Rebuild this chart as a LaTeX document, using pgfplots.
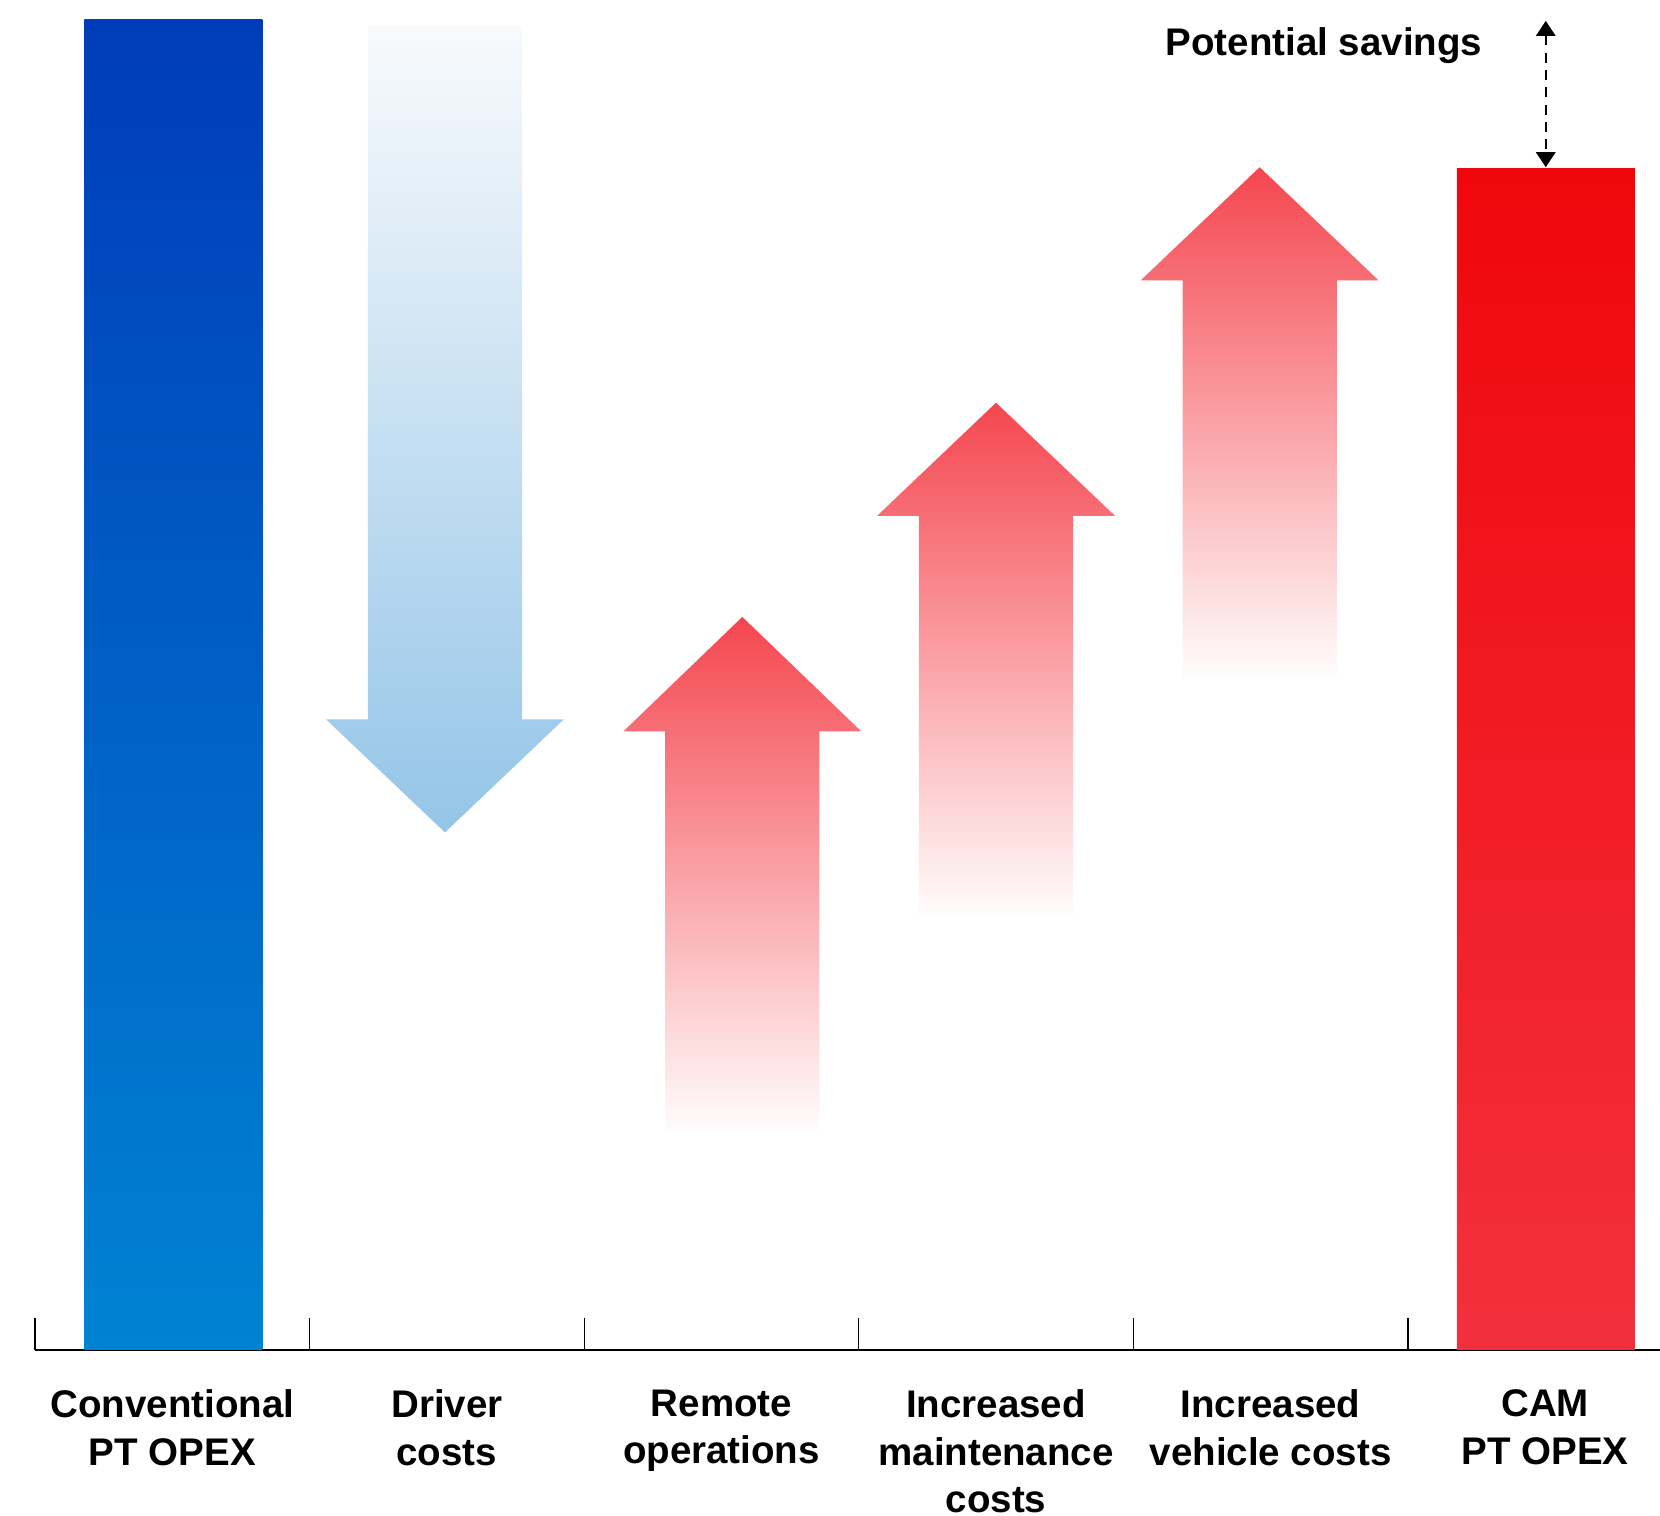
\documentclass[border=0pt]{standalone}
\usepackage{pgfplots}
\pgfplotsset{compat=1.18}
\usepackage{fontspec}
\setmainfont{Liberation Sans}
\usetikzlibrary{arrows.meta}

% bar and arrow colours
\definecolor{convTop}{HTML}{003CB9}
\definecolor{convBot}{HTML}{0083D3}
\definecolor{camTop}{HTML}{F0070C}
\definecolor{camBot}{HTML}{F2303D}
\definecolor{drvTop}{HTML}{F8FAFC}
\definecolor{drvBot}{HTML}{94C5E8}
\definecolor{upTip}{HTML}{F5464F}
\definecolor{upMid}{HTML}{F9B9BE}
\definecolor{upEnd}{HTML}{FFFDFD}

\begin{document}
\begin{tikzpicture}
\useasboundingbox (0,0) rectangle (498bp,454.8bp);
\begin{axis}[
  at={(10.5bp,49.8bp)}, anchor=south west,
  scale only axis, width=487.5bp, height=405bp,
  xmin=-0.5, xmax=5.418, ymin=0, ymax=101.47,
  axis x line=bottom, axis y line=none,
  x axis line style={-, line width=0.75bp, black},
  xtick={0,1,2,3,4,5},
  xticklabels={{Conventional\\PT OPEX},{Driver\\costs},{Remote\\operations},
               {Increased\\maintenance\\costs},{Increased\\vehicle costs},{CAM\\PT OPEX}},
  minor xtick={-0.5,0.5,1.5,2.5,3.5,4.5},
  major tick length=0pt, minor tick length=9.6bp,
  xtick align=inside,
  minor tick style={line width=0.4bp, black},
  xticklabel style={font=\fontsize{11.55bp}{14.28bp}\selectfont\bfseries,
                    align=center, inner sep=0pt, yshift=-11.7bp},
  clip=false,
]
% Conventional PT OPEX (100)
\addplot[draw=none, top color=convTop, bottom color=convBot]
  coordinates {(-0.320,0) (-0.320,100) (0.328,100) (0.328,0)} -- cycle;
% Driver costs: down from 99.5 to 38.9
\addplot[draw=none, top color=drvTop, bottom color=drvBot]
  coordinates {(0.712,99.5) (1.274,99.5) (1.274,47.4) (1.426,47.4)
               (0.993,38.9) (0.560,47.4) (0.712,47.4)} -- cycle;
% Remote operations: up to 55.1
\addplot[draw=none, top color=upTip, middle color=upMid, bottom color=upEnd]
  coordinates {(1.795,16.4) (2.357,16.4) (2.357,46.5) (2.509,46.5)
               (2.076,55.1) (1.643,46.5) (1.795,46.5)} -- cycle;
% Increased maintenance costs: up to 71.2
\addplot[draw=none, top color=upTip, middle color=upMid, bottom color=upEnd]
  coordinates {(2.719,32.5) (3.281,32.5) (3.281,62.7) (3.433,62.7)
               (3.000,71.2) (2.567,62.7) (2.719,62.7)} -- cycle;
% Increased vehicle costs: up to 88.9
\addplot[draw=none, top color=upTip, middle color=upMid, bottom color=upEnd]
  coordinates {(3.679,50.4) (4.241,50.4) (4.241,80.4) (4.393,80.4)
               (3.960,88.9) (3.527,80.4) (3.679,80.4)} -- cycle;
% CAM PT OPEX (88.8)
\addplot[draw=none, top color=camTop, bottom color=camBot]
  coordinates {(4.678,0) (4.678,88.8) (5.326,88.8) (5.326,0)} -- cycle;
% potential savings gap
\addplot[black, line width=0.6bp, dash pattern=on 3bp off 2.2bp,
         {Triangle[length=4.5bp,width=5.8bp]}-{Triangle[length=4.5bp,width=5.8bp]}]
  coordinates {(5.002,99.9) (5.002,88.9)};
\node[anchor=base, font=\fontsize{11.55bp}{14bp}\selectfont\bfseries, inner sep=0pt]
  at (axis cs:4.194,97.3) {Potential savings};
\end{axis}
\end{tikzpicture}
\end{document}
